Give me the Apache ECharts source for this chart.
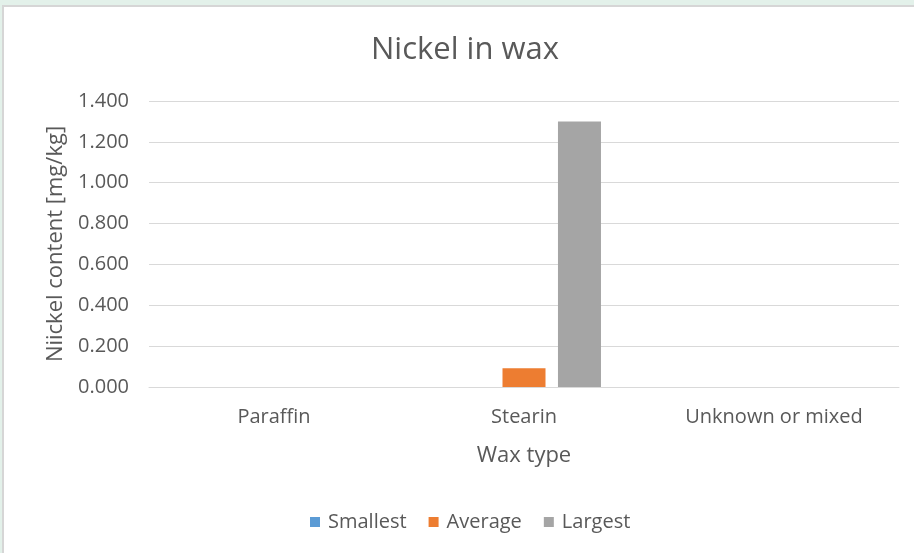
<!DOCTYPE html>
<html>
<head>
<meta charset="utf-8">
<style>
  html, body { margin: 0; padding: 0; width: 914px; height: 553px; overflow: hidden; background: #e3f1ea; }
  #frame { position: absolute; left: 2px; top: 5px; width: 920px; height: 560px; background: #ffffff; border-left: 2px solid #d6d6d6; border-top: 2px solid #d6d6d6; }
  #chart { position: absolute; left: 0; top: 0; width: 914px; height: 553px; }
</style>
<script src="https://cdn.jsdelivr.net/npm/echarts@6/dist/echarts.min.js"></script>
</head>
<body>
<div id="frame"></div>
<div id="chart"></div>
<script>
// Nickel content by wax type
const waxTypes = ['Paraffin', 'Stearin', 'Unknown or mixed'];
const smallest = [0, 0, 0];
const average = [0, 0.092, 0];
const largest = [0, 1.3, 0];
const seriesNames = ['Smallest', 'Average', 'Largest'];
const seriesColors = ['#5b9bd5', '#ed7d31', '#a5a5a5'];

const font = '"Open Sans", "Noto Sans", sans-serif';
const textColor = '#595959';

const chart = echarts.init(document.getElementById('chart'));
const values = [smallest, average, largest];

chart.setOption({
  backgroundColor: 'transparent',
  animation: false,
  title: {
    text: 'Nickel in wax',
    left: 366,
    top: 30,
    textStyle: { fontFamily: font, fontSize: 31, fontWeight: 'normal', color: textColor }
  },
  legend: {
    bottom: 16,
    left: 305,
    itemWidth: 10,
    itemHeight: 10,
    itemGap: 22,
    icon: 'rect',
    textStyle: { fontFamily: font, fontSize: 20, color: textColor, padding: [0, 0, 0, 3] },
    data: seriesNames
  },
  grid: { left: 149, right: 15, top: 101, bottom: 166 },
  xAxis: {
    type: 'category',
    data: waxTypes,
    name: 'Wax type',
    nameLocation: 'middle',
    nameGap: 58,
    nameTextStyle: { fontFamily: font, fontSize: 22, color: textColor },
    axisLine: { lineStyle: { color: '#d9d9d9', width: 1 } },
    axisTick: { show: false },
    axisLabel: { margin: 20, fontFamily: font, fontSize: 20, color: textColor }
  },
  yAxis: {
    type: 'value',
    min: 0,
    max: 1.4,
    interval: 0.2,
    name: 'Niickel content [mg/kg]',
    nameLocation: 'middle',
    nameGap: 81,
    nameTextStyle: { fontFamily: font, fontSize: 22, color: textColor },
    axisLine: { show: false },
    axisTick: { show: false },
    splitLine: { lineStyle: { color: '#d9d9d9', width: 1 } },
    axisLabel: {
      margin: 20,
      fontFamily: font,
      fontSize: 20,
      color: textColor,
      formatter: v => v.toFixed(3)
    }
  },
  series: seriesNames.map((name, i) => ({
    name: name,
    type: 'bar',
    data: values[i],
    barWidth: 43,
    barGap: '29%',
    itemStyle: { color: seriesColors[i] }
  }))
});
</script>
</body>
</html>
